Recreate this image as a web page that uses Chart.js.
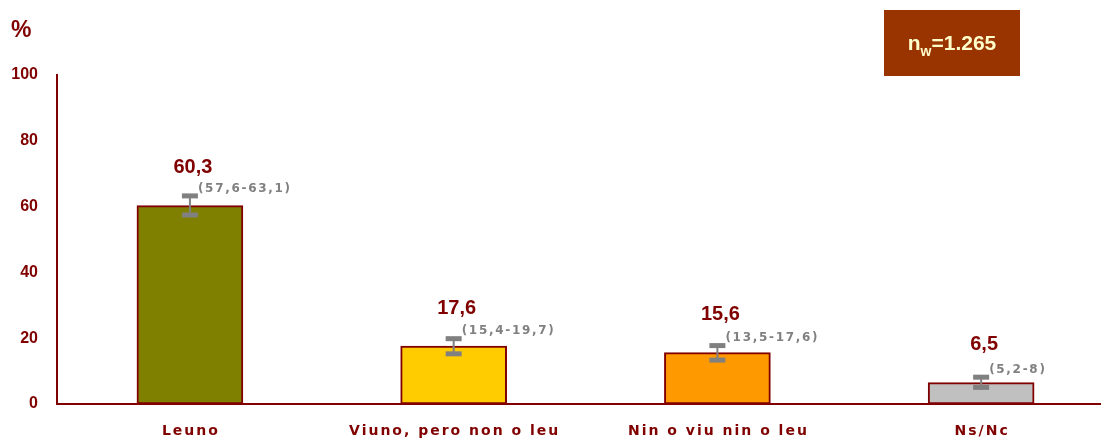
<!DOCTYPE html>
<html>
<head>
<meta charset="utf-8">
<script src="https://cdn.jsdelivr.net/npm/chart.js@4/dist/chart.umd.min.js"></script>
<style>
  html, body { margin: 0; padding: 0; background: #fff; }
  #wrap { width: 1101px; height: 440px; position: relative; }
</style>
</head>
<body>
<div id="wrap"><canvas id="chart"></canvas></div>
<script>
const categories = ["Leuno", "Viuno, pero non o leu", "Nin o viu nin o leu", "Ns/Nc"];
const values = [60.3, 17.6, 15.6, 6.5];
const ciLow = [57.6, 15.4, 13.5, 5.2];
const ciHigh = [63.1, 19.7, 17.6, 8];
const ciLabels = ["(57,6-63,1)", "(15,4-19,7)", "(13,5-17,6)", "(5,2-8)"];
const yTicks = [0, 20, 40, 60, 80, 100];
const barColors = ["#808000", "#FFCC00", "#FF9900", "#C0C0C0"];
const sampleSize = "1.265";

const DARK_RED = "#800000";

function fmt(v) {
  return String(v).replace(".", ",");
}

// error bars, value labels, CI text, category labels, "%" and the n box
const annotations = {
  id: "annotations",
  afterDatasetsDraw(chart) {
    const { ctx, scales } = chart;
    const x = scales.x, y = scales.y;
    ctx.save();
    values.forEach((v, i) => {
      const cx = x.getPixelForValue(i);
      const yHi = y.getPixelForValue(ciHigh[i]);
      const yLo = y.getPixelForValue(ciLow[i]);
      const yTop = y.getPixelForValue(v);

      ctx.fillStyle = "#808080";
      ctx.fillRect(cx - 1, yHi, 2, yLo - yHi);
      ctx.fillRect(cx - 8, yHi - 3, 16, 5);
      ctx.fillRect(cx - 8, yLo - 2, 16, 5);

      ctx.letterSpacing = "0px";
      ctx.fillStyle = DARK_RED;
      ctx.font = "bold 20px 'Liberation Sans', Arial, sans-serif";
      ctx.textAlign = "center";
      ctx.textBaseline = "middle";
      ctx.fillText(fmt(v), cx + 3, yTop - 38);

      ctx.letterSpacing = "1.7px";
      ctx.fillStyle = "#808080";
      ctx.font = "bold 12px 'DejaVu Sans', sans-serif";
      ctx.textAlign = "left";
      ctx.fillText(ciLabels[i], cx + 8, yHi - 8);

      ctx.letterSpacing = "2px";
      ctx.fillStyle = DARK_RED;
      ctx.font = "bold 14px 'DejaVu Sans', sans-serif";
      ctx.textAlign = "center";
      ctx.fillText(categories[i], cx + 1, 431);
    });

    ctx.letterSpacing = "0px";
    ctx.fillStyle = DARK_RED;
    ctx.font = "bold 23px 'Liberation Sans', Arial, sans-serif";
    ctx.textAlign = "left";
    ctx.textBaseline = "middle";
    ctx.fillText("%", 11, 31);

    ctx.fillStyle = "#993300";
    ctx.fillRect(884, 10, 136, 66);
    ctx.fillStyle = "#FFFFCC";
    const big = "bold 21px 'Liberation Sans', Arial, sans-serif";
    const small = "bold 14px 'Liberation Sans', Arial, sans-serif";
    const n1 = "n", n2 = "w", n3 = "=" + sampleSize;
    ctx.font = big;
    const w1 = ctx.measureText(n1).width;
    const w3 = ctx.measureText(n3).width;
    ctx.font = small;
    const w2 = ctx.measureText(n2).width;
    const tx = 952 - (w1 + w2 + w3) / 2;
    ctx.font = big;
    ctx.fillText(n1, tx, 44);
    ctx.font = small;
    ctx.fillText(n2, tx + w1, 52);
    ctx.font = big;
    ctx.fillText(n3, tx + w1 + w2, 44);
    ctx.restore();
  }
};

new Chart(document.getElementById("chart"), {
  type: "bar",
  data: {
    datasets: [{
      data: values.map((v, i) => ({ x: i, y: v })),
      backgroundColor: barColors,
      borderColor: DARK_RED,
      borderWidth: 2,
      borderSkipped: false,
      barThickness: 106
    }]
  },
  options: {
    responsive: true,
    maintainAspectRatio: false,
    animation: false,
    layout: { padding: { top: 75, right: 0, left: 0, bottom: 0 } },
    plugins: { legend: { display: false }, tooltip: { enabled: false } },
    scales: {
      x: {
        type: "linear",
        offset: false,
        bounds: "ticks",
        min: -0.504,
        max: 3.4545,
        afterBuildTicks(scale) {
          scale.ticks = categories.map((c, i) => ({ value: i }));
        },
        afterFit(scale) { scale.height = 36; },
        grid: { display: false, drawTicks: false },
        border: { display: true, color: DARK_RED, width: 2 },
        ticks: { display: false }
      },
      y: {
        min: 0,
        max: 100,
        afterBuildTicks(scale) {
          scale.ticks = yTicks.map((v) => ({ value: v }));
        },
        afterFit(scale) { scale.width = 57; },
        grid: { display: false, drawTicks: false },
        border: { display: true, color: DARK_RED, width: 2 },
        ticks: {
          padding: 19,
          color: DARK_RED,
          font: { family: "'Liberation Sans', Arial, sans-serif", size: 16, weight: "bold" }
        }
      }
    }
  },
  plugins: [annotations]
});
</script>
</body>
</html>
